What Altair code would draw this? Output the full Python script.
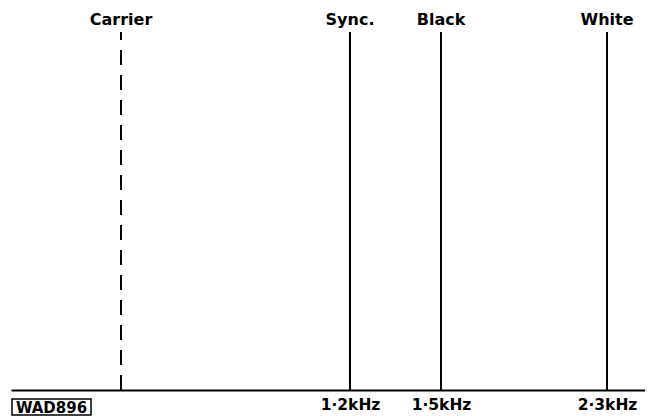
import altair as alt
import pandas as pd

# Data
names = ["Carrier", "Sync.", "Black", "White"]
freqs_khz = [0.0, 1.2, 1.5, 2.3]
dashed = [True, False, False, False]
tick_values = [1.2, 1.5, 2.3]
code_label = ["WAD896"]

df = pd.DataFrame({"name": names, "f": freqs_khz, "dashed": dashed, "base": 0, "top": 1})

FONT = "DejaVu Sans"
W, H = 637, 382

# schematic (non-uniform) frequency axis
xscale = alt.Scale(domain=[-0.55, 0.0, 1.2, 1.5, 2.3, 2.42],
                   range=[3, 113, 342, 433, 599, 637])
yscale = alt.Scale(domain=[0, 1], range=[H, 24])

xaxis = alt.Axis(values=tick_values, title=None, ticks=False, grid=False,
                 domainColor="black", domainWidth=2,
                 labelExpr="replace(format(datum.value, '.1f'), '.', '·') + 'kHz'",
                 labelFont=FONT, labelFontSize=15.5, labelFontWeight="bold",
                 labelColor="black", labelPadding=7, labelFlush=False)

base = alt.Chart(df)

solid = base.transform_filter("!datum.dashed").mark_rule(color="black", strokeWidth=2).encode(
    x=alt.X("f:Q", scale=xscale, axis=xaxis),
    y=alt.Y("base:Q", scale=yscale, axis=None),
    y2="top:Q",
)

dash = base.transform_filter("datum.dashed").mark_rule(
    color="black", strokeWidth=2, strokeDash=[15, 10]).encode(
    x=alt.X("f:Q", scale=xscale),
    y=alt.Y("base:Q", scale=yscale),
    y2="top:Q",
)

labels = base.mark_text(font=FONT, fontSize=16, fontWeight="bold", color="black",
                        baseline="alphabetic", dy=-7).encode(
    x=alt.X("f:Q", scale=xscale),
    y=alt.Y("top:Q", scale=yscale),
    text="name:N",
)

code_df = pd.DataFrame({"t": code_label})
code_box = alt.Chart(code_df).mark_rect(fill="white", stroke="black", strokeWidth=1.5).encode(
    x=alt.value(4), x2=alt.value(83), y=alt.value(391), y2=alt.value(407))
code_text = alt.Chart(code_df).mark_text(font=FONT, fontSize=15, fontWeight="bold",
                                         color="black", align="center", baseline="alphabetic").encode(
    x=alt.value(43.5), y=alt.value(404.5), text="t:N")

chart = alt.layer(solid, dash, labels, code_box, code_text).properties(
    width=W, height=H,
    padding={"left": 0, "top": 0, "right": 0, "bottom": 26},
    autosize=alt.AutoSizeParams(type="none"),
    background="white",
).configure_view(stroke=None)

chart.save("out.html", embed_options={"renderer": "svg", "actions": False})
